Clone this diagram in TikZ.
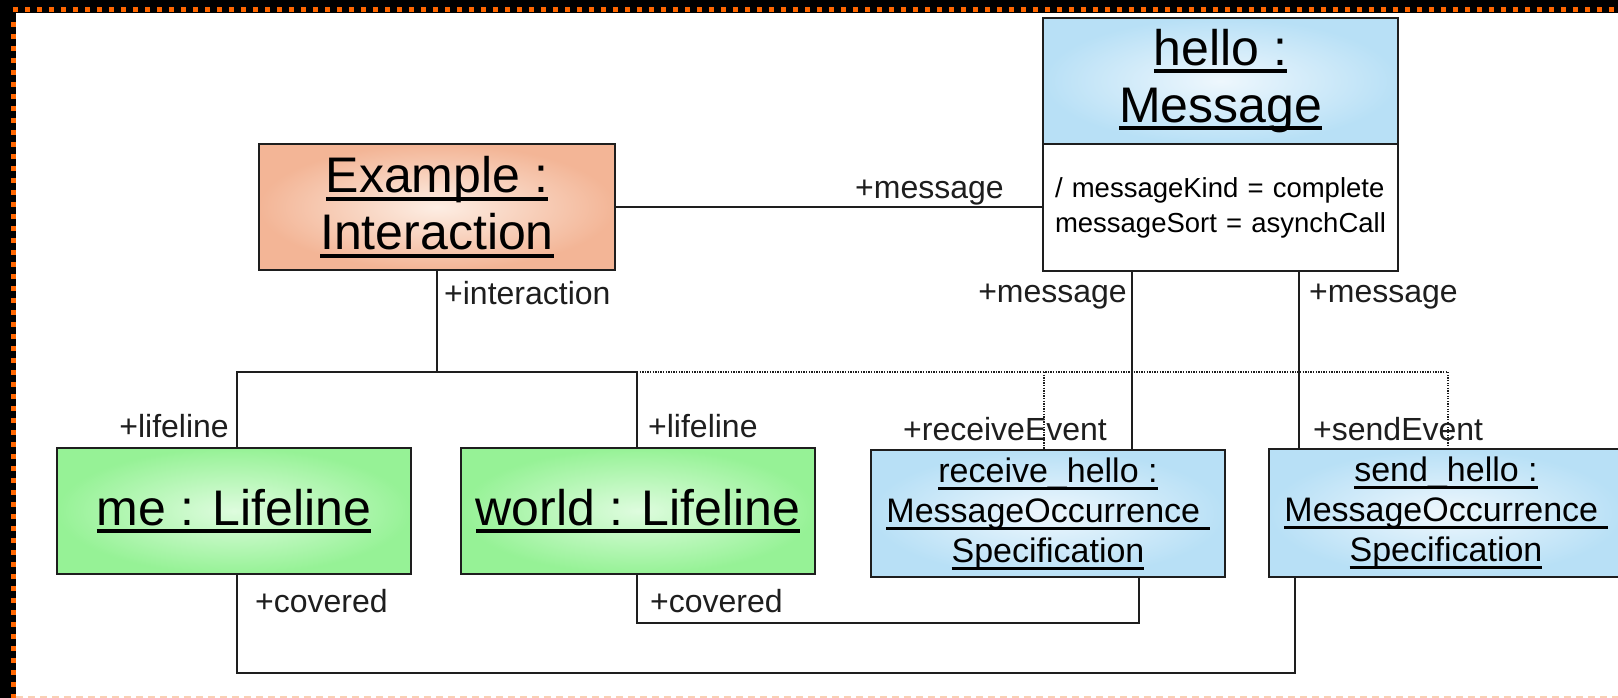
\documentclass[tikz,border=0pt]{standalone}
\usepackage{fontspec}
\setmainfont{Liberation Sans}
\definecolor{salin}{RGB}{253,238,228}
\definecolor{salout}{RGB}{243,181,150}
\definecolor{bluein}{RGB}{238,247,253}
\definecolor{blueout}{RGB}{184,224,246}
\definecolor{greenin}{RGB}{222,252,222}
\definecolor{greenout}{RGB}{150,242,150}
\definecolor{framedot}{RGB}{255,102,0}
\definecolor{peach}{RGB}{250,208,180}
\definecolor{ink}{RGB}{30,30,30}
\newcommand\fbig{\fontsize{50}{57}\selectfont}
\newcommand\fmid{\fontsize{34}{40}\selectfont}
\newcommand\fattr{\fontsize{27.5}{35}\selectfont}
\newcommand\flab{\fontsize{32}{38}\selectfont}
\newcommand\ulbig[1]{\leavevmode\setbox0=\hbox{#1}\rlap{\rule[-0.16em]{\wd0}{0.08em}}\box0}
\newcommand\ulsm[1]{\leavevmode\setbox0=\hbox{#1}\rlap{\rule[-0.22em]{\wd0}{0.09em}}\box0}
\begin{document}
\begin{tikzpicture}[x=1pt,y=-1pt,
  umlbox/.style={draw=ink, line width=2pt, inner sep=0pt, minimum width=354pt, minimum height=126pt, align=center},
  conn/.style={draw=ink, line width=1.6pt},
  dotconn/.style={draw=ink, line width=1.3pt, dash pattern=on 1.3pt off 1.3pt},
  lbl/.style={font=\flab, inner sep=0pt, text=ink}]
\useasboundingbox (0,0) rectangle (1618,698);
% frame
\fill[black] (0,0) rectangle (1618,13);
\fill[black] (0,0) rectangle (16,698);
\fill[white] (16,13) rectangle (1618,698);
\draw[framedot, line width=5pt, dash pattern=on 5pt off 7pt] (13,9.5) -- (1618,9.5);
\draw[framedot, line width=5pt, dash pattern=on 5pt off 7pt] (13.5,22) -- (13.5,698);
\draw[peach, line width=2pt, dash pattern=on 7pt off 5pt] (16,696.5) -- (1618,696.5);

% boxes
\node[umlbox, inner color=salin, outer color=salout, font=\fbig, minimum width=356pt] (ex) at (437,207) {\ulbig{Example :}\\\ulbig{Interaction}};
\node[umlbox, inner color=bluein, outer color=blueout, font=\fbig, minimum width=355pt] (hellohead) at (1220.5,81) {\ulbig{hello :}\\\ulbig{Message}};
\node[umlbox, fill=white, font=\fattr, minimum width=355pt, minimum height=127pt, align=left, text width=331pt] (helloattr) at (1220.5,207.5) {\hbox{/ messageKind = complete}\\\hbox{messageSort = asynchCall}};
\node[umlbox, inner color=greenin, outer color=greenout, font=\fbig] (me) at (234,511) {\ulbig{me : Lifeline}};
\node[umlbox, inner color=greenin, outer color=greenout, font=\fbig] (world) at (638,511) {\ulbig{world : Lifeline}};
\node[umlbox, inner color=bluein, outer color=blueout, font=\fmid, minimum height=127pt] (recv) at (1048,513.5) {\ulsm{receive\_hello :}\\\ulsm{MessageOccurrence\ }\\\ulsm{Specification}};
\node[umlbox, inner color=bluein, outer color=blueout, font=\fmid, minimum height=128pt] (send) at (1446,513) {\ulsm{send\_hello :}\\\ulsm{MessageOccurrence\ }\\\ulsm{Specification}};

% coordinates
\coordinate (jl) at (237,372);
\coordinate (jr) at (637,372);
\coordinate (dm) at (1044,372);
\coordinate (dr) at (1448,372);
\coordinate (h1) at (1132,300);
\coordinate (h2) at (1299,300);
\coordinate (c1) at (1295,673);
\coordinate (c2) at (1139,623);

% connectors
\draw[conn] (ex.east) -- (ex.east -| helloattr.west);
\draw[conn] (ex.south) -- (ex.south |- jl);
\draw[conn] (me.north -| jl) -- (jl) -- (jr) -- (world.north -| jr);
\draw[dotconn] (jr) -- (dr) -- (dr |- send.north);
\draw[dotconn] (dm) -- (dm |- recv.north);
\draw[conn] (helloattr.south -| h1) -- (recv.north -| h1);
\draw[conn] (helloattr.south -| h2) -- (send.north -| h2);
\draw[conn] (send.south -| c1) -- (c1) -- (c1 -| jl) -- (me.south -| jl);
\draw[conn] (world.south -| jr) -- (jr |- c2) -- (c2) -- (recv.south -| c2);

% labels
\node[lbl, anchor=base west] (lm0) at (855,198) {+message};
\node[lbl, anchor=base east] (lm1) at (1127,302) {+message};
\node[lbl, anchor=base west] (lm2) at (1309,302) {+message};
\node[lbl, anchor=base west] (lint) at (444,304) {+interaction};
\node[lbl, anchor=base east] (ll1) at (229,437) {+lifeline};
\node[lbl, anchor=base west] (ll2) at (648,437) {+lifeline};
\node[lbl, anchor=base west] (lre) at (903,440) {+receiveEvent};
\node[lbl, anchor=base west] (lse) at (1313,440) {+sendEvent};
\node[lbl, anchor=base west] (lc1) at (255,612) {+covered};
\node[lbl, anchor=base west] (lc2) at (650,612) {+covered};
\end{tikzpicture}
\end{document}
